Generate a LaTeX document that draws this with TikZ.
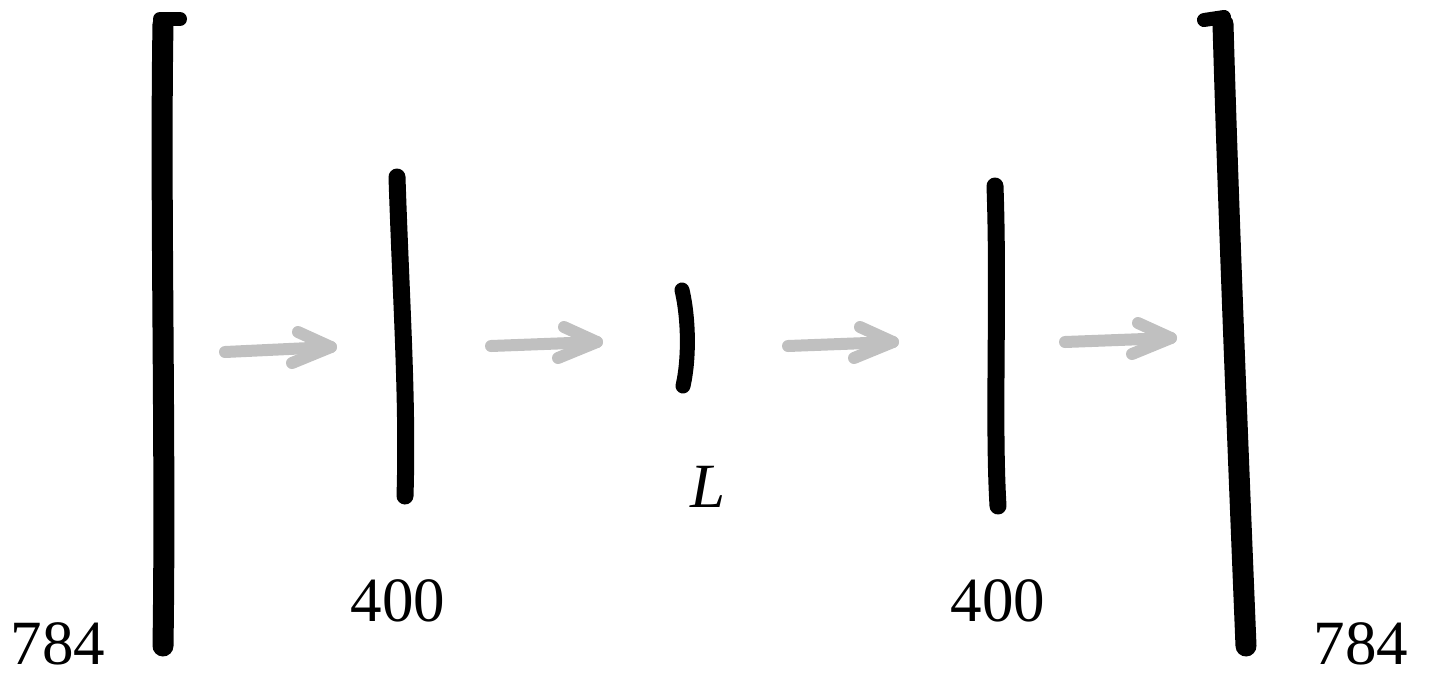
\documentclass[tikz,border=0pt]{standalone}
\usepackage{fontspec}
\setmainfont{Liberation Serif}
\begin{document}
\begin{tikzpicture}[x=1pt,y=-1pt,
  bar/.style={line width=#1, line cap=round, line join=round, black},
  flow/.style={line width=12pt, line cap=round, line join=round, color={rgb,255:red,192;green,192;blue,192}},
  lbl/.style={font=\fontsize{63}{70}\selectfont, inner sep=0pt}]
\useasboundingbox (0,0) rectangle (1430,678);
% bars
\draw[bar=21pt] (163,24) .. controls (160,200) and (166,450) .. (163,646);
\draw[bar=14pt] (160,19) -- (180,19);
\draw[bar=17pt] (397,177) .. controls (401,300) and (408,400) .. (405,496);
\draw[bar=15pt] (682,290) .. controls (689,320) and (689,360) .. (683,386);
\draw[bar=17pt] (995,186) .. controls (999,300) and (993,420) .. (998,506);
\draw[bar=21pt] (1223,24) .. controls (1228,200) and (1238,450) .. (1246,646);
\draw[bar=14pt] (1204,20) -- (1224,17);
% arrow end points
\coordinate (s1) at (225,352); \coordinate (e1) at (331,347);
\coordinate (s2) at (491,346); \coordinate (e2) at (597,342);
\coordinate (s3) at (788,346); \coordinate (e3) at (893,342);
\coordinate (s4) at (1065,342); \coordinate (e4) at (1171,338);
\foreach \i in {1,2,3,4}{
  \draw[flow] (s\i) -- (e\i);
  \draw[flow] ([shift={(-33,-15)}]e\i) -- (e\i) -- ([shift={(-39,16)}]e\i);
}
% labels
\node[lbl] (n784a) at (58,644) {784};
\node[lbl] (n400a) at (398,601) {400};
\node[lbl] (nL) at (708,487) {\itshape L};
\node[lbl] (n400b) at (998,601) {400};
\node[lbl] (n784b) at (1361,644) {784};
\end{tikzpicture}
\end{document}
